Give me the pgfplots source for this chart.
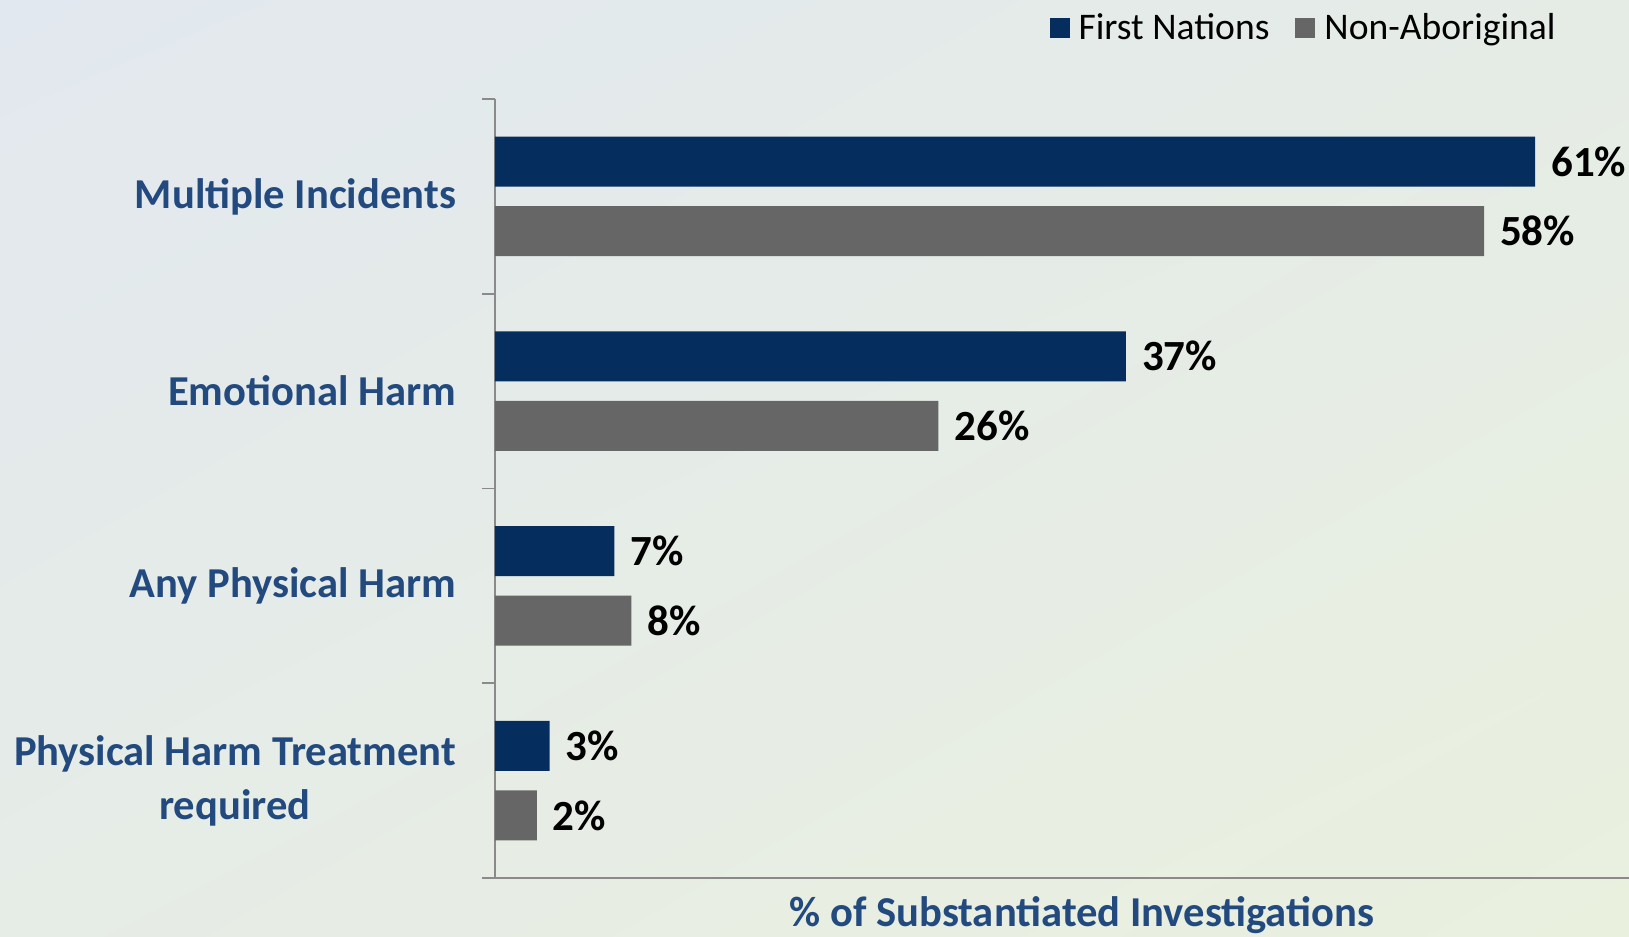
\documentclass[border=0pt]{standalone}
\usepackage{pgfplots}
\pgfplotsset{compat=1.18}
\usetikzlibrary{shadings}
\usepackage{fontspec}
\setmainfont{Carlito}
\definecolor{fnblue}{HTML}{052E5F}
\definecolor{nagray}{HTML}{666666}
\definecolor{catblue}{HTML}{234A7E}
\definecolor{bgTL}{HTML}{E2E8EF}
\definecolor{bgTR}{HTML}{E5ECE6}
\definecolor{bgBL}{HTML}{E6ECE6}
\definecolor{bgBR}{HTML}{EAF0DE}
\definecolor{axgray}{HTML}{8A8A8A}
\begin{document}
\begin{tikzpicture}
\shade[upper left=bgTL, upper right=bgTR, lower left=bgBL, lower right=bgBR] (-247.5pt,-29.5pt) rectangle (567pt,439pt);
\begin{axis}[
  at={(0,0)}, anchor=south west,
  scale only axis, width=567pt, height=389.5pt,
  xbar, bar width=25pt,
  xmin=0, xmax=66.5, ymin=-0.5, ymax=3.5,
  axis lines=left,
  x axis line style={-, draw=axgray, line width=1.3pt, shorten <=-6.5pt},
  y axis line style={-, draw=axgray, line width=0.8pt},
  xtick=\empty,
  ytick={0,1,2,3},
  yticklabels={{Physical Harm Treatment\\required},{Any Physical Harm},{Emotional Harm},{Multiple Incidents}},
  major tick length=0pt,
  yticklabel style={align=center, font=\fontsize{21.3}{27}\selectfont\bfseries, text=catblue, xshift=-16pt},
  extra y ticks={-0.5,0.5,1.5,2.5,3.5},
  extra y tick labels={},
  extra y tick style={major tick length=6.5pt, tick align=outside, tick style={draw=axgray, line width=0.8pt}},
  clip=false,
  point meta=explicit,
  nodes near coords={\pgfmathprintnumber[assume math mode=true, fixed, precision=0]{\pgfplotspointmeta}\%},
  nodes near coords style={font=\fontsize{21.5}{25}\selectfont\bfseries, text=black, anchor=west, xshift=4.5pt},
  xlabel={\% of Substantiated Investigations},
  xlabel style={at={(rel axis cs:0.5176,0)}, anchor=base, yshift=-24.5pt, font=\fontsize{21.3}{25}\selectfont\bfseries, text=catblue},
  legend columns=2,
  legend style={at={(0.9445,1.091)}, anchor=east, draw=none, fill=none, font=\fontsize{18.8}{22}\selectfont,
    /tikz/every even column/.append style={column sep=11pt}},
  legend image code/.code={\fill[#1] (0pt,-5pt) rectangle (10pt,5pt); \path (12.5pt,0pt);},
]
\addplot[draw=none, fill=fnblue, bar shift=17.4pt] coordinates {(3.2,0) [3] (7,1) [7] (37,2) [37] (61,3) [61]};
\addlegendentry{First Nations}
\addplot[draw=none, fill=nagray, bar shift=-17.4pt] coordinates {(2.45,0) [2] (8,1) [8] (26,2) [26] (58,3) [58]};
\addlegendentry{Non-Aboriginal}
\end{axis}
\pgfresetboundingbox
\path[use as bounding box] (-247.5pt,-29.5pt) rectangle (567pt,439pt);
\end{tikzpicture}
\end{document}
